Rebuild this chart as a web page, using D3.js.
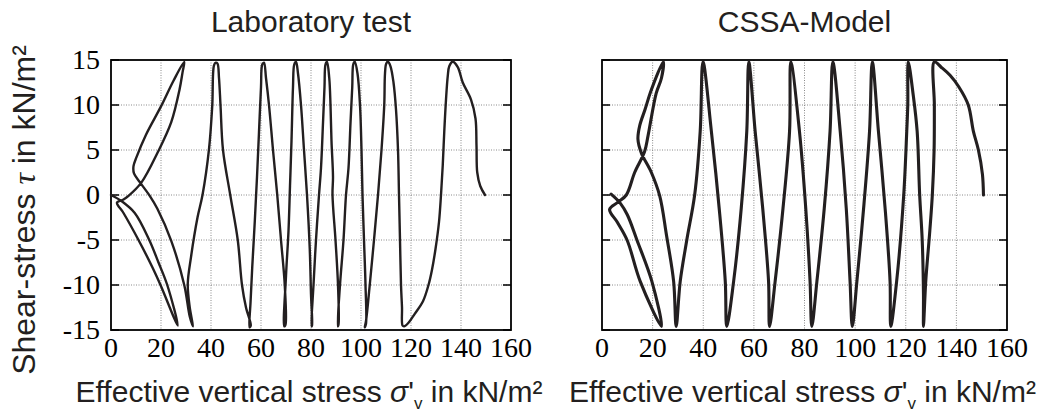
<!DOCTYPE html>
<html><head><meta charset="utf-8">
<script src="https://cdn.jsdelivr.net/npm/d3@7"></script>
</head>
<body style="margin:0;background:#fff">
<svg id="chart" width="1044" height="419" style="display:block"></svg>
<script>
// ---------- data ----------
const xTicks = [0, 20, 40, 60, 80, 100, 120, 140, 160];
const yTicks = [-15, -10, -5, 0, 5, 10, 15];
const panelTitles = ["Laboratory test", "CSSA-Model"];

// Laboratory test: effective vertical stress (kN/m²) and shear stress (kN/m²), in test order
const labSigma = [149.6,147.7,146.5,146.2,145.8,144,140.7,138.7,136.7,135.3,134.7,134,133.3,132.7,132,
  131.2,129.8,128.4,127,124.8,121.5,119,117.2,
  116.6,116.4,116,115.6,115.2,114.8,114,113,111.8,110.8,110.1,
  109.6,109.3,108.2,106.8,105.2,103.5,102,101.5,
  102,101.8,101.2,100.6,100.2,99.6,98.6,97.5,96.9,
  96.5,95.8,95,94,93,91.6,90.7,
  91,90.8,89.8,88.6,88.8,88.2,87.8,87.3,86.4,85.8,
  85.4,84.8,84,83.2,82,81,80.2,
  80.4,80,79.5,78.4,77.2,76,74.8,74,73.3,
  72.8,72.2,71.6,71,70,69.3,
  69.8,69.5,68,66.5,64.8,63.2,62,61.2,60.5,
  60,59.2,58.4,57.5,56.5,55.8,55.4,
  55.9,54,52.4,50.7,47.7,44.8,43.8,43.2,42.6,41.9,
  41.2,40.5,39.2,36.6,34.6,32,30.7,31.5,32.8,
  31.5,29.3,24.1,18.5,15.5,11.6,9.2,9,10.2,14,20.1,25,29.3,
  28.6,27.4,24.1,18.8,12.2,7,5,2.4,
  5,11,16.5,19.8,26.7,22.5,19,15.3,9.5,4.3,0];
const labTau = [0,1,2.5,5.5,8.5,10.6,12.5,14.2,14.8,14.3,13.2,10.6,7,3.3,0,
  -3,-6,-8.3,-10,-11.8,-13.2,-14.2,-14.6,
  -14.5,-12.5,-10,-5,0,5,9.5,12.5,14.3,14.8,14.6,
  13.5,10,5,0,-5,-10,-14,-14.7,
  -14.3,-10,-5,0,5,10,13.5,14.8,14.5,
  12,8,3,0,-5,-10,-14.6,
  -14.4,-10,-5,0,2,6,10,13,14.8,14.5,
  12,8,3,0,-5,-10,-14.6,
  -14.5,-11,-6,0,5,10,13.5,14.8,14.5,
  12,6,1,-4,-9,-14.6,
  -14.4,-10,-5,0,5,10,13,14.7,14.5,
  12,7,2,-3,-8,-12,-14.7,
  -14.5,-12.5,-10,-5,0,5,10,13,14.6,14.7,
  14.4,9.9,5.1,0,-2.5,-6.9,-9.9,-12.5,-14.6,
  -13.5,-10,-5.1,-1.5,-0.1,1.4,2.4,3.2,4.2,6.7,9.9,12.7,14.8,
  13.6,11.7,8.1,4.8,1.4,-0.1,-0.5,-0.85,
  -2,-5,-8,-10,-14.5,-10,-7.5,-5,-2,-0.7,0];

// CSSA-Model
const modelSigma = [150.7,150.3,148.7,146.7,144.7,141,137.5,134,131.3,
  131.3,131.2,130.5,129.5,127.9,127,
  127,126.5,125.5,124.5,123,121,
  120.8,120.4,119.2,116.4,114.1,
  113.8,112,109.2,106.8,
  105.7,103.5,100.7,98.9,
  98,96.5,94.1,91.2,
  90.1,87.8,84.9,82.9,
  82.2,80.5,78,74.6,
  74.1,71.5,68.4,66.2,
  65.8,63.5,60.5,58,
  57.2,55,52,49.3,
  48.7,46.3,43.2,39.9,
  38.8,36.6,33.5,30.9,29.3,
  28.3,25.5,22.8,19.5,15.5,14.2,14.9,17,19.5,24.2,
  23.5,21.4,18.2,16.8,12.9,9.6,6.3,3,
  6,9.9,15.1,23.5,19.7,13.8,10,7.2,3.6];
const modelTau = [0,2.3,5,7.1,10,12,13.3,14.2,14.8,
  10,5,0,-4,-9.6,-14.6,
  -11,-5,0,7.1,11,14.8,
  10,7.1,0,-9.6,-14.6,
  -9.6,-2,7.1,14.8,
  7.1,-1,-9.6,-14.6,
  -9.6,-1.5,7.1,14.8,
  7.1,-1.5,-9.6,-14.6,
  -9.6,-1.5,7.1,14.8,
  7.1,-1.5,-9.6,-14.6,
  -9.6,-1.5,7.1,14.8,
  7.1,-1.5,-9.6,-14.6,
  -9.6,-1.5,7.1,14.8,
  7.1,0,-5,-9.6,-14.6,
  -9.6,-4.5,-0.1,2.5,4.7,6.2,7.7,9.5,11.7,14.8,
  13,11.3,6.6,4.8,2.5,0,-0.8,-1.6,
  -3,-5,-9.6,-14.6,-9.6,-5,-2.2,-0.9,0.1];

// ---------- drawing ----------
const SERIF = "'Times New Roman', 'Liberation Serif', Tinos, 'DejaVu Serif'";
const SANS = "'Liberation Sans'";
const svg = d3.select("#chart");
const panels = [
  {x0: 111, x1: 511, sigma: labSigma, tau: labTau, yLabels: true, width: 2.4},
  {x0: 602, x1: 1007, sigma: modelSigma, tau: modelTau, yLabels: false, width: 3.1}
];
const yTop = 60, yBot = 330;
const ink = "#231f20";

panels.forEach((p, i) => {
  const x = d3.scaleLinear().domain([0, 160]).range([p.x0, p.x1]);
  const y = d3.scaleLinear().domain([-15, 15]).range([yBot, yTop]);
  const g = svg.append("g");

  // grid
  g.selectAll(".gx").data(xTicks.slice(1, -1)).join("line")
    .attr("x1", d => x(d)).attr("x2", d => x(d)).attr("y1", yTop).attr("y2", yBot)
    .attr("stroke", "#8a8a8a").attr("stroke-width", 1).attr("stroke-dasharray", "1,1.5");
  g.selectAll(".gy").data(yTicks.slice(1, -1)).join("line")
    .attr("y1", d => y(d)).attr("y2", d => y(d)).attr("x1", p.x0).attr("x2", p.x1)
    .attr("stroke", "#8a8a8a").attr("stroke-width", 1).attr("stroke-dasharray", "1,1.5");

  // tick labels (serif), placed with the scales
  g.append("g").selectAll("text").data(xTicks).join("text")
    .attr("x", d => x(d)).attr("y", 357).attr("text-anchor", "middle")
    .style("font-family", SERIF).style("font-size", "28px").style("fill", "#000")
    .text(d => String(d));
  if (p.yLabels) {
    g.append("g").selectAll("text").data(yTicks).join("text")
      .attr("x", p.x0 - 11).attr("y", d => y(d) + 9).attr("text-anchor", "end")
      .style("font-family", SERIF).style("font-size", "28px").style("fill", "#000")
      .text(d => String(d));
  }

  // inner tick marks on left and right edges
  g.selectAll(".tl").data(yTicks).join("line")
    .attr("x1", p.x0).attr("x2", p.x0 + 8).attr("y1", d => y(d)).attr("y2", d => y(d))
    .attr("stroke", "#000").attr("stroke-width", 1.5);
  g.selectAll(".tr").data(yTicks).join("line")
    .attr("x1", p.x1 - 8).attr("x2", p.x1).attr("y1", d => y(d)).attr("y2", d => y(d))
    .attr("stroke", "#000").attr("stroke-width", 1.5);

  // frame
  g.append("rect").attr("x", p.x0).attr("y", yTop).attr("width", p.x1 - p.x0).attr("height", yBot - yTop)
    .attr("fill", "none").attr("stroke", "#000").attr("stroke-width", 1.8);

  // stress path
  const pts = p.sigma.map((s, k) => [s, p.tau[k]]);
  const line = d3.line().x(d => x(d[0])).y(d => y(d[1])).curve(d3.curveCatmullRom.alpha(0.5));
  g.append("path").attr("d", line(pts)).attr("fill", "none").attr("stroke", ink)
    .attr("stroke-width", p.width).attr("stroke-linejoin", "round").attr("stroke-linecap", "round");

  // title
  g.append("text").attr("x", (p.x0 + p.x1) / 2).attr("y", 32).attr("text-anchor", "middle")
    .style("font-family", SANS).style("font-size", "30px").style("fill", "#231f20")
    .text(panelTitles[i]);

  // x label
  const xl = g.append("text").attr("x", (p.x0 + p.x1) / 2 - 2).attr("y", 402).attr("text-anchor", "middle")
    .style("font-family", SANS).style("font-size", "30px").style("fill", "#231f20");
  xl.append("tspan").text("Effective vertical stress ");
  xl.append("tspan").style("font-style", "italic").text("σ");
  xl.append("tspan").text("'");
  xl.append("tspan").style("font-size", "17px").attr("dy", 7).text("v");
  xl.append("tspan").attr("dy", -7).text(" in kN/m²");
});

// y label
const yl = svg.append("text").attr("transform", "translate(35,210) rotate(-90)").attr("text-anchor", "middle")
  .style("font-family", SANS).style("font-size", "32px").style("fill", "#231f20");
yl.append("tspan").text("Shear-stress ");
yl.append("tspan").style("font-family", SERIF).style("font-style", "italic").text("τ");
yl.append("tspan").text(" in kN/m²");
</script>
</body></html>
